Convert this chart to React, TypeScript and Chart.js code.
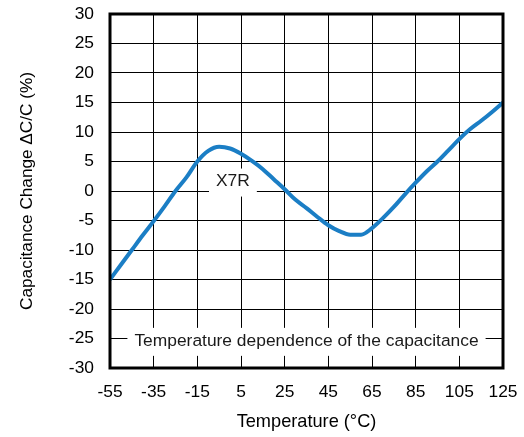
import React, { useEffect, useRef } from "react";
import { Chart, registerables } from "chart.js";

Chart.register(...registerables);

const temperatures = [
  -55, -50, -45, -40, -35, -30, -25, -20, -15, -10, -5, 0, 5, 10, 15, 20, 25, 30, 35,
  40, 45, 50, 55, 60, 65, 70, 75, 80, 85, 90, 95, 100, 105, 110, 115, 120, 125,
];
const capacitanceChange = [
  -15, -12.5, -10, -7.5, -5.1, -2.6, 0, 2.3, 5, 6.8, 7.5, 7.2, 6.3, 5.1, 3.7, 2.0, 0.3,
  -1.5, -2.9, -4.4, -5.8, -6.8, -7.4, -7.4, -6.3, -4.6, -2.7, -0.6, 1.4, 3.3, 5.0, 6.9,
  8.8, 10.5, 11.9, 13.4, 15,
];
const xTicks = [-55, -35, -15, 5, 25, 45, 65, 85, 105, 125];
const yTicks = [-30, -25, -20, -15, -10, -5, 0, 5, 10, 15, 20, 25, 30];

const labelTexts = ["X7R", "Temperature dependence of the capacitance"];
const labelX = [1.3, 35];
const labelY = [1.6, -25.4];

const FONT = '"Liberation Sans", Arial, sans-serif';

const labelPlugin = {
  id: "textLabels",
  beforeDatasetsDraw(chart: any) {
    const { ctx, scales } = chart;
    const xs = scales.x;
    const ys = scales.y;
    ctx.save();
    ctx.font = `17.4px ${FONT}`;
    ctx.textAlign = "center";
    ctx.textBaseline = "middle";
    labelTexts.forEach((t, i) => {
      const px = xs.getPixelForValue(labelX[i]);
      const py = ys.getPixelForValue(labelY[i]);
      const w = ctx.measureText(t).width + 14;
      const h = 28;
      ctx.fillStyle = "#ffffff";
      ctx.fillRect(px - w / 2, py - h / 2 + 1, w, h);
      ctx.fillStyle = "#1a1a1a";
      ctx.fillText(t, px, py);
    });
    ctx.restore();
  },
  afterDraw(chart: any) {
    const { ctx, chartArea } = chart;
    ctx.save();
    ctx.strokeStyle = "#000";
    ctx.lineWidth = 3;
    ctx.strokeRect(
      chartArea.left,
      chartArea.top,
      chartArea.right - chartArea.left,
      chartArea.bottom - chartArea.top
    );
    ctx.restore();
  },
};

export default function App() {
  const ref = useRef<HTMLCanvasElement | null>(null);

  useEffect(() => {
    if (!ref.current) return;
    const chart = new Chart(ref.current, {
      type: "line",
      data: {
        datasets: [
          {
            data: temperatures.map((t, i) => ({ x: t, y: capacitanceChange[i] })),
            borderColor: "#1b7ec5",
            borderWidth: 4,
            pointRadius: 0,
            tension: 0.4,
            cubicInterpolationMode: "monotone",
            fill: false,
          },
        ],
      },
      options: {
        animation: false,
        responsive: false,
        devicePixelRatio: 1,
        layout: { padding: { top: 14, right: 21, bottom: 0, left: 0 } },
        plugins: { legend: { display: false }, tooltip: { enabled: false } },
        scales: {
          x: {
            type: "linear",
            min: -55,
            max: 125,
            afterBuildTicks: (s: any) => {
              s.ticks = xTicks.map((v) => ({ value: v }));
            },
            afterFit: (s: any) => {
              s.height = 69;
              s.paddingLeft = 0;
              s.paddingRight = 0;
              s.paddingTop = 0;
              s.paddingBottom = 0;
            },
            grid: { color: "#000", lineWidth: 1, drawTicks: false },
            border: { display: false },
            ticks: {
              padding: 14,
              color: "#000",
              font: { family: FONT, size: 17.4 },
              maxRotation: 0,
              autoSkip: false,
            },
            title: {
              display: true,
              text: "Temperature (°C)",
              color: "#000",
              font: { family: FONT, size: 18.2, lineHeight: 1.2 },
              padding: { top: 0, bottom: 4 },
            },
          },
          y: {
            type: "linear",
            min: -30,
            max: 30,
            afterBuildTicks: (s: any) => {
              s.ticks = yTicks.map((v) => ({ value: v }));
            },
            afterFit: (s: any) => {
              s.width = 110;
              s.paddingLeft = 0;
              s.paddingRight = 0;
              s.paddingTop = 0;
              s.paddingBottom = 0;
            },
            grid: { color: "#000", lineWidth: 1, drawTicks: false },
            border: { display: false },
            ticks: {
              padding: 16,
              color: "#000",
              font: { family: FONT, size: 17.4 },
              autoSkip: false,
            },
            title: {
              display: true,
              text: "Capacitance Change ΔC/C (%)",
              color: "#000",
              font: { family: FONT, size: 17.2, lineHeight: 1.2 },
              padding: { top: 17, bottom: 0 },
            },
          },
        },
      },
      plugins: [labelPlugin],
    });
    return () => chart.destroy();
  }, []);

  return (
    <div style={{ position: "fixed", left: 0, top: 0, width: 524, height: 437, background: "#fff" }}>
      <canvas ref={ref} width={524} height={437} />
    </div>
  );
}
